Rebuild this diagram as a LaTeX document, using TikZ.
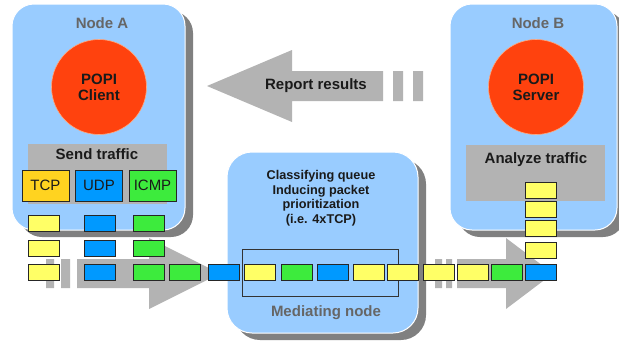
\documentclass[tikz,border=0pt]{standalone}
\usepackage{fontspec}
\setmainfont{Liberation Sans}
\usetikzlibrary{shadows,positioning}
\definecolor{hostblue}{HTML}{99CCFF}
\definecolor{shadowgray}{HTML}{808080}
\definecolor{arrowgray}{HTML}{B3B3B3}
\definecolor{popired}{HTML}{FF420E}
\definecolor{popiedge}{HTML}{FFAA80}
\definecolor{labelgray}{HTML}{666666}
\definecolor{textdark}{HTML}{1A1A1A}
\definecolor{tcpgold}{HTML}{FFD320}
\definecolor{pktY}{HTML}{FFFF66}
\definecolor{pktB}{HTML}{0099FF}
\definecolor{pktG}{HTML}{3DEB3D}
\tikzset{
  host/.style={fill=hostblue, draw=white, line width=1pt, rounded corners=22pt,
    drop shadow={shadow xshift=8pt, shadow yshift=-7pt, fill=shadowgray, opacity=1}},
  txt/.style={font=\fontsize{15}{17}\selectfont\bfseries, text=textdark, inner sep=0pt},
  hostname/.style={txt, text=labelgray},
  popi/.style={circle, fill=popired, draw=popiedge, line width=0.6pt,
    minimum size=95pt, align=center, txt},
  task/.style={fill=arrowgray, inner sep=0pt},
  proto/.style={draw=black!85, line width=0.8pt, minimum width=47pt, minimum height=31pt,
    inner sep=0pt, font=\fontsize{15}{17}\selectfont, text=textdark},
  pkt/.style={draw=black!85, line width=0.8pt, minimum width=31pt, minimum height=16pt, inner sep=0pt}
}
\begin{document}
\begin{tikzpicture}[x=1pt, y=-1pt]
  \useasboundingbox (0,0) rectangle (619,341);

  % report arrow
  \fill [arrowgray] (207,86) -- (292,50) -- (292,71) -- (383,71) -- (383,101)
    -- (292,101) -- (292,122) -- cycle;
  \fill [arrowgray] (393,71) rectangle (403,101) (413,71) rectangle (423,101);
  \node [txt] (report) at (316,86) {Report results};

  % traffic arrows
  \fill [arrowgray] (46,259) rectangle (54,288) (61,259) rectangle (70,288);
  \fill [arrowgray] (77,259) -- (149,259) -- (149,238) -- (220,273.5) -- (149,309)
    -- (149,288) -- (77,288) -- cycle;
  \fill [arrowgray] (435,259) rectangle (442,288) (446,259) rectangle (452,288);
  \fill [arrowgray] (457,259) -- (506,259) -- (506,238) -- (553,273.5) -- (506,309)
    -- (506,288) -- (457,288) -- cycle;

  % hosts
  \node [host, minimum width=173pt, minimum height=226pt] (nodeA) at (98.5,117) {};
  \node [host, minimum width=167pt, minimum height=226pt] (nodeB) at (533.5,117) {};
  \node [host, minimum width=191pt, minimum height=181pt, rounded corners=25pt] (mediator) at (322.5,242.5) {};

  \node [hostname] (nameA) at (102,23) {Node A};
  \node [hostname] (nameB) at (538,23) {Node B};
  \node [hostname] (nameM) at (326,313) {Mediating node};

  \node [popi] (client) at (99,87) {POPI\\[-1pt]Client};
  \node [popi] (server) at (536,87) {POPI\\[-1pt]Server};

  % client side
  \node [task, minimum width=139pt, minimum height=60pt] (send) at (97.5,174) {};
  \node [txt] (sendtxt) at (97,154) {Send traffic};
  \node [proto, fill=tcpgold] (tcp) at (45.5,185.5) {TCP};
  \node [proto, fill=pktB] (udp) at (99,185.5) {UDP};
  \node [proto, fill=pktG] (icmp) at (152.5,185.5) {ICMP};

  % server side
  \node [task, minimum width=139pt, minimum height=56pt] (analyze) at (535.5,173) {};
  \node [txt] (analyzetxt) at (536,160) {Analyze traffic};

  % mediating node
  \node [txt, font=\fontsize{12.7}{14.5}\selectfont\bfseries, align=center] (queuetxt) at (321,198)
    {Classifying queue\\Inducing packet\\prioritization\\(i.e. 4xTCP)};
  \node [draw=black!80, line width=0.8pt, minimum width=156pt, minimum height=47pt, inner sep=0pt] (queue) at (320,272.5) {};

  % packets
  \foreach \x/\c [count=\i] in {28/pktY, 84/pktB, 133/pktG}
  {
    \node [pkt, fill=\c] (a\i) at (\x+15.5,223.5) {};
    \node [pkt, fill=\c] (b\i) at (\x+15.5,248) {};
  }
  \foreach \x/\c [count=\i] in {28/pktY, 84/pktB, 133/pktG, 169/pktG, 208/pktB,
      244/pktY, 281/pktG, 317/pktB, 353/pktY, 387/pktY, 423/pktY, 457/pktY,
      491/pktG, 525/pktB}
    \node [pkt, fill=\c] (p\i) at (\x+15.5,272) {};
  \foreach \y [count=\i] in {190, 209, 228.5, 250.5}
    \node [pkt, fill=pktY] (c\i) at (540.5,\y) {};
\end{tikzpicture}
\end{document}
